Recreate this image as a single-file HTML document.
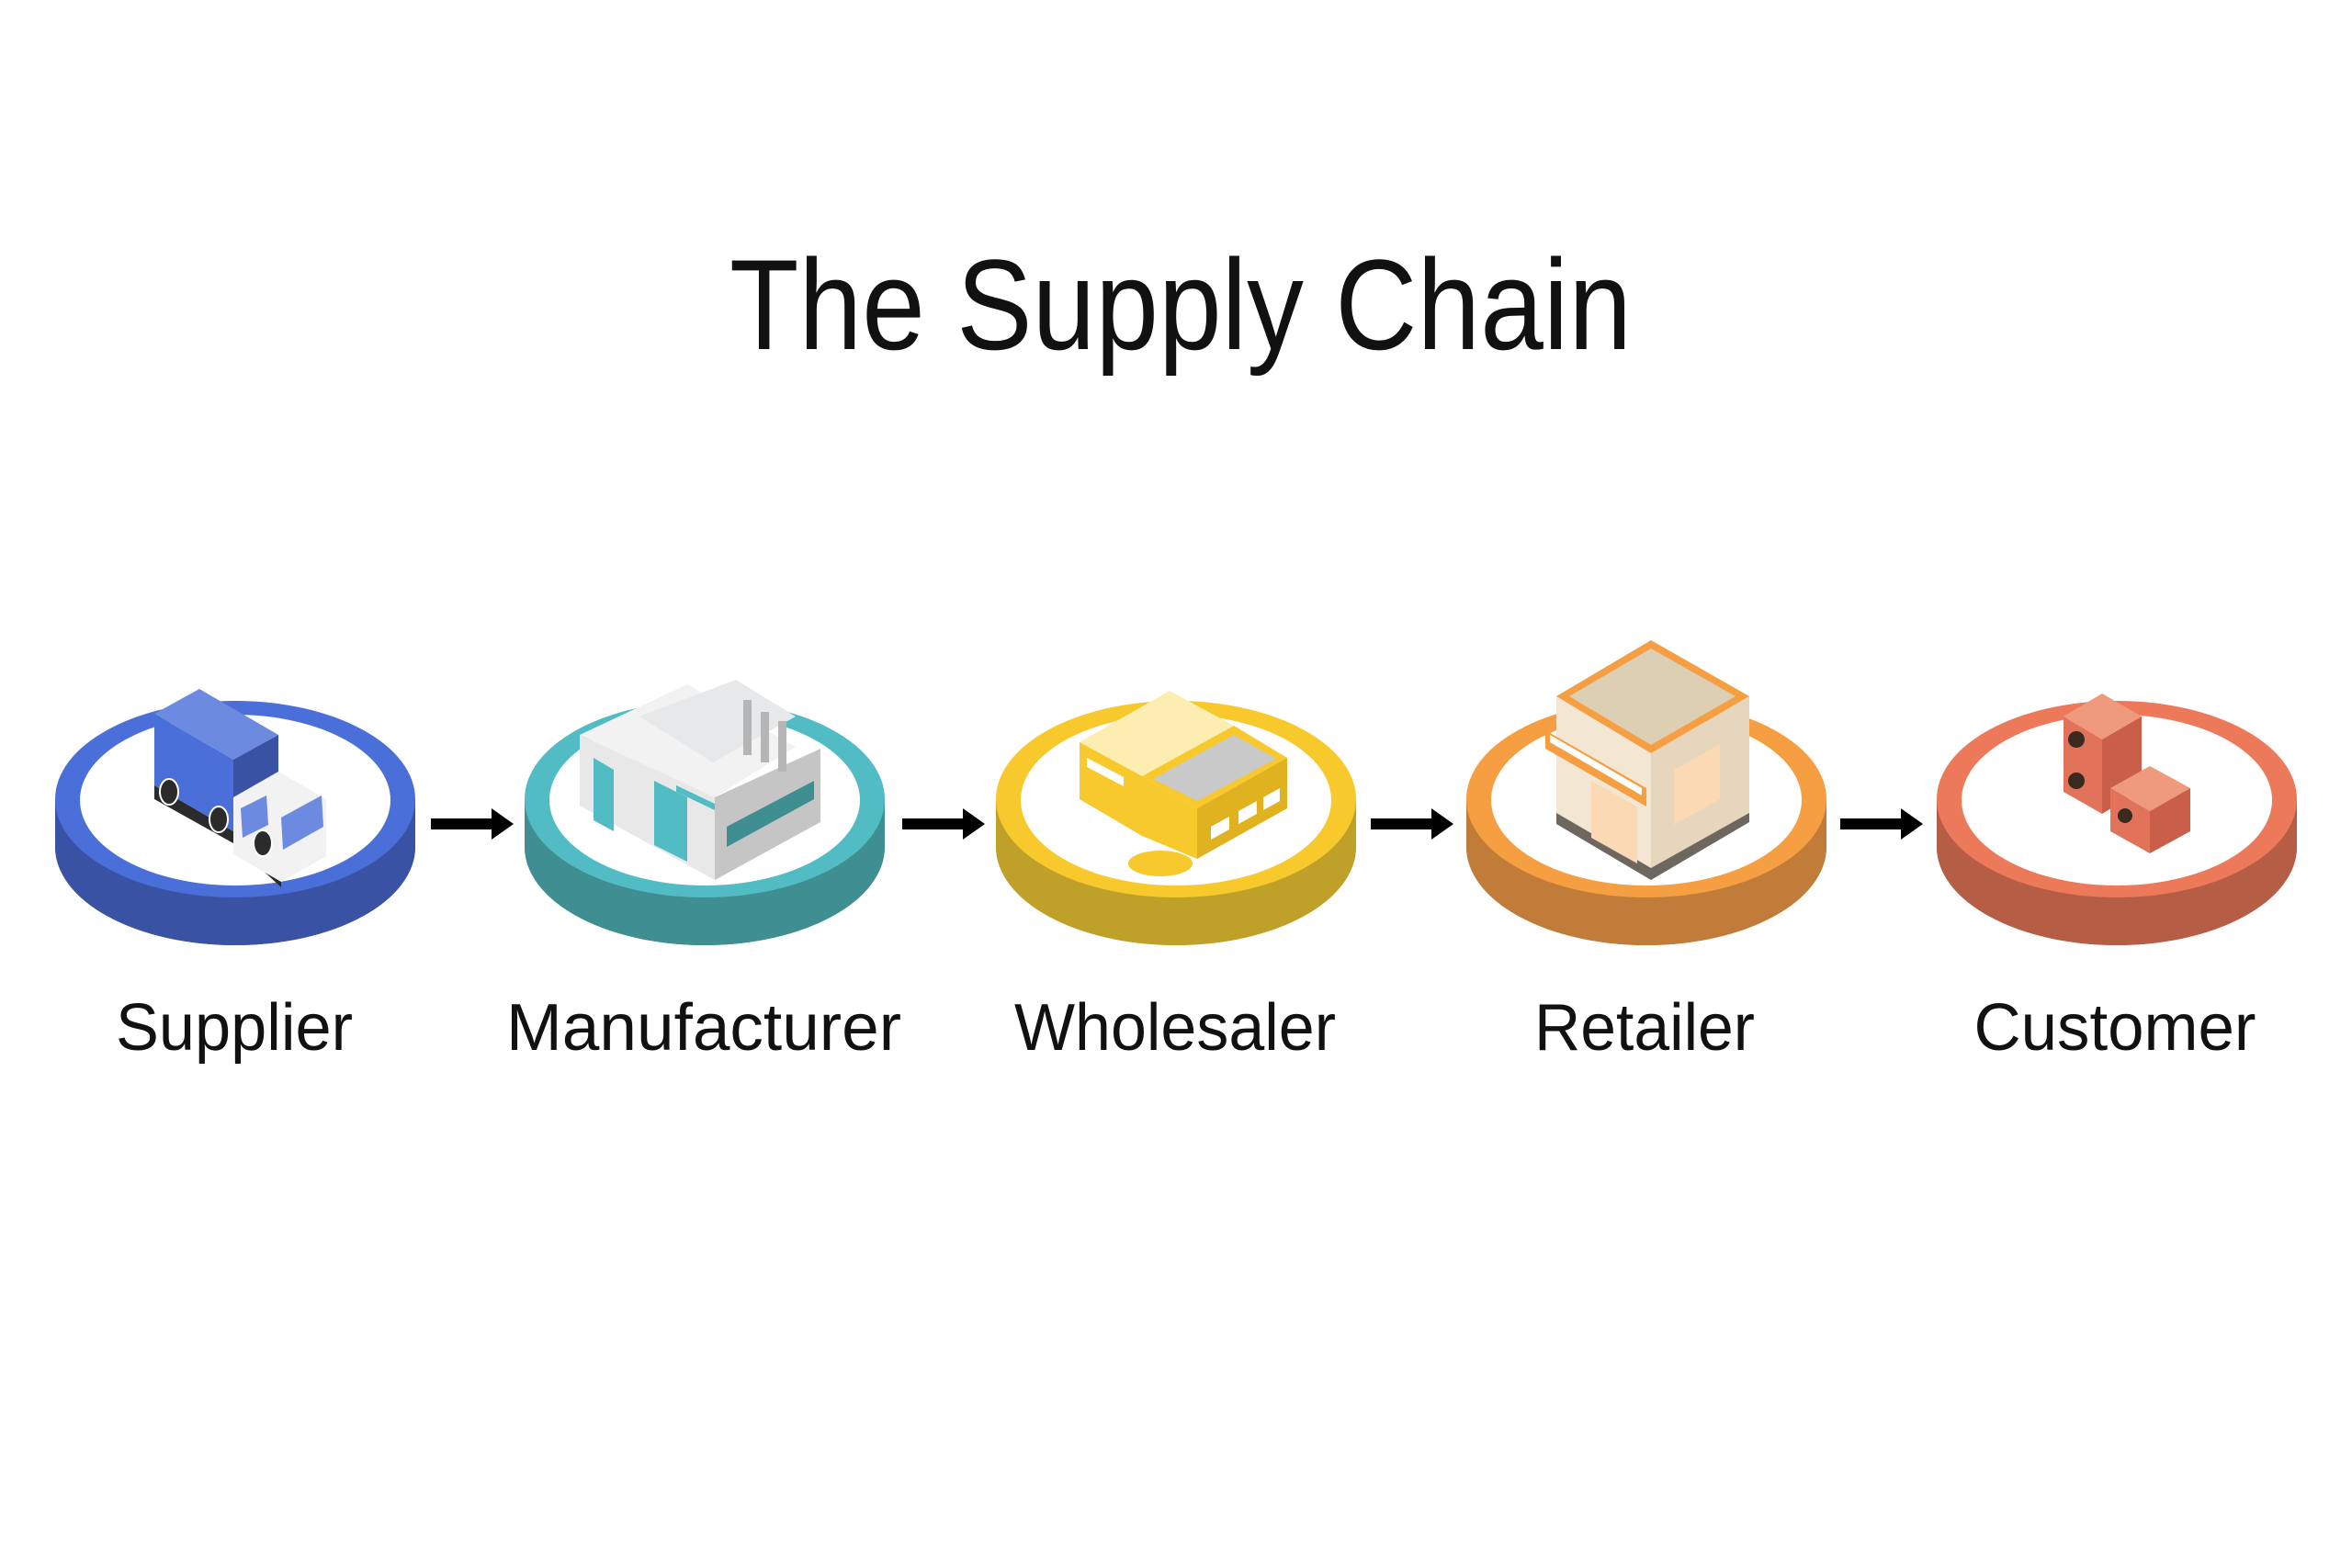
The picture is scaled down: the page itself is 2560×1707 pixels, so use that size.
<!DOCTYPE html>
<html><head><meta charset="utf-8"><style>
html,body{margin:0;padding:0;background:#fff;}
svg{display:block;}
text{font-family:"Liberation Sans",sans-serif;fill:#111;}
</style></head><body>
<svg width="2560" height="1707" viewBox="0 0 2560 1707" xmlns="http://www.w3.org/2000/svg">
<rect width="2560" height="1707" fill="#fff"/>
<text x="1285" y="380" font-size="140" text-anchor="middle" textLength="982" lengthAdjust="spacingAndGlyphs">The Supply Chain</text>

<!-- disks -->
<g id="d1">
<path d="M60 870 V922 A196 107 0 0 0 452 922 V870 Z" fill="#3a52a3"/>
<ellipse cx="256" cy="922" rx="196" ry="107" fill="#3a52a3"/>
<ellipse cx="256" cy="870" rx="196" ry="107" fill="#4a6fd8"/>
<ellipse cx="256" cy="871" rx="169" ry="93" fill="#fff"/>
</g>
<g transform="translate(-4,0)">
<path d="M575 870 V922 A196 107 0 0 0 967 922 V870 Z" fill="#3f8e92"/>
<ellipse cx="771" cy="922" rx="196" ry="107" fill="#3f8e92"/>
<ellipse cx="771" cy="870" rx="196" ry="107" fill="#52bcc4"/>
<ellipse cx="771" cy="871" rx="169" ry="93" fill="#fff"/>
</g>
<g transform="translate(-7,0)">
<path d="M1091 870 V922 A196 107 0 0 0 1483 922 V870 Z" fill="#bfa028"/>
<ellipse cx="1287" cy="922" rx="196" ry="107" fill="#bfa028"/>
<ellipse cx="1287" cy="870" rx="196" ry="107" fill="#f7c92c"/>
<ellipse cx="1287" cy="871" rx="169" ry="93" fill="#fff"/>
</g>
<g transform="translate(-8,0)">
<path d="M1604 870 V922 A196 107 0 0 0 1996 922 V870 Z" fill="#c07c38"/>
<ellipse cx="1800" cy="922" rx="196" ry="107" fill="#c07c38"/>
<ellipse cx="1800" cy="870" rx="196" ry="107" fill="#f59e42"/>
<ellipse cx="1800" cy="871" rx="169" ry="93" fill="#fff"/>
</g>
<g transform="translate(-12,0)">
<path d="M2120 870 V922 A196 107 0 0 0 2512 922 V870 Z" fill="#b65e45"/>
<ellipse cx="2316" cy="922" rx="196" ry="107" fill="#b65e45"/>
<ellipse cx="2316" cy="870" rx="196" ry="107" fill="#ec7a5a"/>
<ellipse cx="2316" cy="871" rx="169" ry="93" fill="#fff"/>
</g>

<!-- arrows -->
<g fill="#000">
<path d="M469 891 H535 V880 L559 897 L535 914 V903 H469 Z"/>
<path d="M982 891 H1048 V880 L1072 897 L1048 914 V903 H982 Z"/>
<path d="M1492 891 H1558 V880 L1582 897 L1558 914 V903 H1492 Z"/>
<path d="M2003 891 H2069 V880 L2093 897 L2069 914 V903 H2003 Z"/>
</g>

<!-- truck -->
<g>
<polygon points="168,855 254,905 306,955 306,966 254,918 168,870" fill="#2b2b2b"/>
<polygon points="254,868 303,840 355,870 355,932 306,960 254,930" fill="#f2f2f2"/>
<polygon points="306,890 350,866 352,900 308,925" fill="#6b8ae0"/>
<polygon points="262,880 290,866 292,898 264,912" fill="#6b8ae0"/>
<polygon points="217,750 303,800 254,827 168,777" fill="#6b8ae0"/>
<polygon points="168,777 254,827 254,905 168,855" fill="#4a6fd8"/>
<polygon points="254,827 303,800 303,840 254,868" fill="#3a52a3"/>
<g fill="#2b2b2b" stroke="#fff" stroke-width="2"><ellipse cx="184" cy="862" rx="10" ry="14"/><ellipse cx="238" cy="892" rx="10" ry="14"/><ellipse cx="286" cy="918" rx="10" ry="14"/></g>
</g>

<!-- factory -->
<g transform="translate(-4,0)">
<polygon points="752,745 870,813 782,868 635,800" fill="#f2f2f2"/>
<polygon points="700,780 805,740 870,780 780,830" fill="#e6e8ea"/>
<polygon points="635,800 782,868 782,958 635,877" fill="#e8e8e8"/>
<polygon points="782,868 897,815 897,895 782,958" fill="#c5c5c5"/>
<polygon points="650,825 672,838 672,905 650,893" fill="#52bcc4"/>
<polygon points="716,850 752,868 752,938 716,920" fill="#52bcc4"/>
<polygon points="740,855 782,875 782,882 740,862" fill="#52bcc4"/>
<polygon points="795,900 890,850 890,870 795,922" fill="#3f8e92"/>
<g fill="#b5b5b5"><rect x="813" y="762" width="9" height="60"/><rect x="832" y="775" width="9" height="55"/><rect x="851" y="785" width="9" height="55"/></g>
</g>

<!-- wholesaler -->
<g transform="translate(-7,0)">
<polygon points="1250,845 1350,790 1408,825 1310,880" fill="#f7c92c"/>
<polygon points="1262,848 1350,800 1396,826 1310,872" fill="#c9c9c9"/>
<polygon points="1310,880 1408,825 1408,880 1310,935" fill="#e0b220"/>
<polygon points="1250,845 1310,880 1310,935 1250,910" fill="#f7c92c"/>
<polygon points="1280,752 1350,790 1250,845 1182,808" fill="#fbeeb0"/>
<polygon points="1182,808 1250,845 1250,910 1182,870" fill="#f7c92c"/>
<g fill="#fff"><polygon points="1325,900 1345,889 1345,903 1325,914"/><polygon points="1355,883 1375,872 1375,886 1355,897"/><polygon points="1382,868 1400,858 1400,872 1382,882"/><polygon points="1190,825 1230,846 1230,856 1190,835"/></g>
<ellipse cx="1270" cy="940" rx="35" ry="14" fill="#f7c92c"/>
</g>

<!-- retailer -->
<g transform="translate(-8,0)">
<polygon points="1702,758 1805,820 1805,952 1702,890" fill="#f3e6d3"/>
<polygon points="1805,820 1912,758 1912,890 1805,952" fill="#e6d6bd"/>
<polygon points="1702,885 1805,945 1912,885 1912,895 1805,958 1702,897" fill="#6e675f"/>
<polygon points="1805,697 1912,758 1805,820 1702,758" fill="#f59e42"/>
<polygon points="1805,706 1897,758 1805,811 1716,758" fill="#dccfb4"/>
<polygon points="1690,795 1800,858 1800,878 1690,815" fill="#f59e42"/>
<polygon points="1695,800 1795,858 1795,866 1695,808" fill="#fff"/>
<polygon points="1740,850 1790,878 1790,940 1740,912" fill="#fbd9b5"/>
<polygon points="1830,838 1880,810 1880,870 1830,898" fill="#fbd9b5"/>
</g>

<!-- customer -->
<g transform="translate(-12,0)">
<polygon points="2300,755 2343,780 2300,805 2258,780" fill="#ef9a7d"/>
<polygon points="2258,780 2300,805 2300,886 2258,862" fill="#e0735a"/>
<polygon points="2300,805 2343,780 2343,860 2300,886" fill="#c95f48"/>
<polygon points="2352,834 2396,858 2352,883 2309,858" fill="#ef9a7d"/>
<polygon points="2309,858 2352,883 2352,929 2309,905" fill="#e0735a"/>
<polygon points="2352,883 2396,858 2396,905 2352,929" fill="#c95f48"/>
<g fill="#3a2a20"><circle cx="2272" cy="805" r="9"/><circle cx="2272" cy="850" r="9"/><circle cx="2325" cy="888" r="8"/></g>
</g>

<!-- labels -->
<g font-size="72" text-anchor="middle">
<text x="255" y="1143" textLength="258" lengthAdjust="spacingAndGlyphs">Supplier</text>
<text x="766" y="1143" textLength="430" lengthAdjust="spacingAndGlyphs">Manufacturer</text>
<text x="1279" y="1143" textLength="350" lengthAdjust="spacingAndGlyphs">Wholesaler</text>
<text x="1790" y="1143" textLength="240" lengthAdjust="spacingAndGlyphs">Retailer</text>
<text x="2302" y="1143" textLength="307" lengthAdjust="spacingAndGlyphs">Customer</text>
</g>
</svg>
</body></html>
